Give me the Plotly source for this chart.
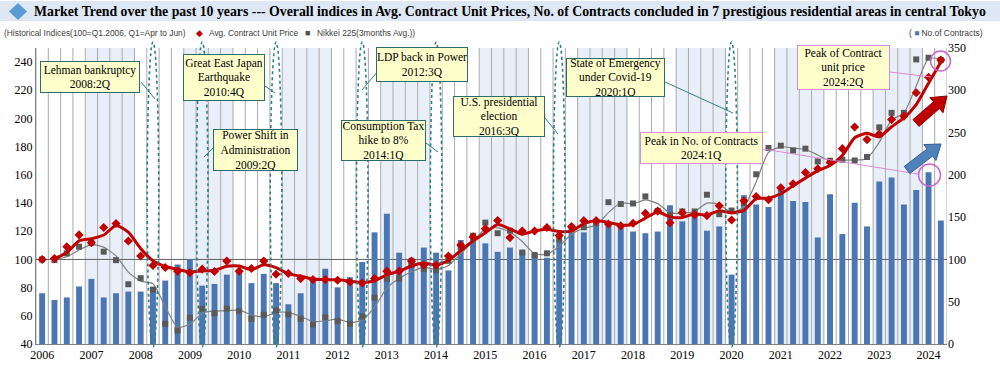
import math
import plotly.graph_objects as go

years = list(range(2006, 2025))
quarters = [f"{y}:{q}Q" for y in years for q in (1, 2, 3, 4)][:74]
year_labels = [str(y) for y in years]

# No. of contracts (right axis)
contracts = [60, 52, 55, 68, 77, 55, 60, 62, 62, 67,
             75, 94, 100, 69, 71, 82, 87, 72, 83, 72,
             47, 60, 76, 89, 67, 79, 97, 132, 154, 108,
             102, 114, 108, 87, 123, 131, 119, 109, 114, 110,
             107, 102, 123, 132, 132, 143, 143, 138, 133, 131,
             133, 164, 145, 155, 134, 139, 82, 176, 165, 162,
             186, 169, 168, 126, 177, 130, 167, 139, 192, 197,
             165, 182, 203, 146]

# Avg. contract unit price index (left axis)
unit_price = [100, 100.7, 109, 117.4, 111.9, 122.6, 125.5, 113.1, 102.4, 95.7,
              94.3, 91.7, 90.5, 93.1, 91.4, 98.8, 91.7, 93.6, 98.8, 89.5,
              90, 86.4, 85.7, 85.7, 85.2, 84, 83.3, 86.4, 91.7, 91.7,
              98.8, 96, 96, 102.4, 110.2, 116, 121.7, 127.6, 115.5, 120.2,
              120.2, 122.6, 116.9, 123.3, 127.5, 127.5, 125.1, 123.8, 125.7, 132.8,
              134.3, 126.1, 133.2, 131.6, 131.1, 138, 128, 141.6, 144.6, 142.3,
              150.8, 153.7, 161.7, 164.3, 168.8, 178.6, 194, 185, 189, 199.2,
              201.6, 218.2, 229.3, 241.4]

price_trend = [None, 100.4, 104.9, 113.2, 114.7, 117.3, 124.1, 119.3, 107.8, 99.1,
               95.0, 93.0, 91.1, 91.8, 92.3, 95.1, 95.3, 92.7, 96.2, 94.2,
               89.8, 88.2, 86.1, 85.7, 85.5, 84.6, 83.7, 84.9, 89.1, 91.7,
               95.3, 97.4, 96.0, 99.2, 106.3, 113.1, 118.9, 124.7, 121.6, 117.9,
               120.2, 121.4, 119.8, 120.1, 125.4, 127.5, 126.3, 124.5, 124.8, 129.3,
               133.6, 130.2, 129.7, 132.4, 131.4, 134.6, 133.0, 134.8, 143.1, 143.5,
               146.6, 152.3, 157.7, 163.0, 166.6, 173.7, 186.3, 189.5, 187.0, 194.1,
               200.4, 209.9, 225.0, 240.0]

# Nikkei 225 (3 months avg.) index (left axis)
nikkei = [100, 99.5, 104.3, 109, 111.9, 105.5, 99.5, 82.4, 86.7, 78.6,
          54.3, 49.5, 58.6, 65, 61.9, 65, 63.3, 57.9, 60.7, 63.8,
          61, 57.9, 53.8, 59, 56.2, 54.3, 59.5, 72.9, 86.4, 86.4,
          96, 93.1, 92.4, 99, 109, 116.8, 126.1, 118.6, 120.4, 104.9,
          103.1, 104.3, 114.2, 121.4, 122.8, 125.7, 140.6, 139.3, 139.7, 144.7,
          134.4, 131.6, 134, 134, 145.9, 132.1, 134.7, 140, 160.4, 179.1,
          180.7, 177.3, 178.6, 169.5, 170, 170.7, 170.2, 172.7, 193.7, 204,
          204, 241.9, 243.1, 241.4]

nikkei_trend = [None, 99.8, 101.9, 106.7, 110.5, 108.7, 102.5, 91.0, 84.6, 82.7,
                66.5, 51.9, 54.1, 61.8, 63.5, 63.5, 64.2, 60.6, 59.3, 62.3,
                62.4, 59.5, 55.9, 56.4, 57.6, 55.3, 56.9, 66.2, 79.7, 86.4,
                91.2, 94.6, 92.8, 95.7, 104.0, 112.9, 121.5, 122.4, 119.5, 112.7,
                104.0, 103.7, 109.3, 117.8, 122.1, 124.3, 133.2, 140.0, 139.5, 142.2,
                139.6, 133.0, 132.8, 134.0, 140.0, 139.0, 133.4, 137.4, 155.0, 176.0,
                179.9, 179.0, 178.0, 174.1, 169.8, 170.4, 170.5, 171.5, 183.2, 198.9,
                204.0, 223.0, 242.5, 242.3]

events = [
    ("Lehman bankruptcy<br>2008:2Q", "2008:2Q", (40, 61, 140, 93), (141, 82, 155, 99)),
    ("Power Shift in<br>Administration<br>2009:2Q", "2009:2Q", (213, 129, 298, 171), (213, 148, 204, 157)),
    ("Great East Japan<br>Earthquake<br>2010:4Q", "2010:4Q", (183, 54, 265, 101), (265, 86, 275, 93)),
    ("LDP back in Power<br>2012:3Q", "2012:3Q", (376, 47, 468, 82), (378, 71, 362, 90)),
    ("Consumption Tax<br>hike to 8%<br>2014:1Q", "2014:1Q", (341, 120, 426, 161), (426, 143, 438, 152)),
    ("U.S. presidential<br>election<br>2016:3Q", "2016:3Q", (453, 96, 545, 137), (545, 118, 558, 134)),
    ("State of Emergency<br>under Covid-19<br>2020:1Q", "2020:1Q", (566, 58, 665, 97), (665, 82, 733, 113)),
]

W, H = 1000, 365
PL, PR, PT, PB = 36, 947, 48, 344


def px(x):
    return (x - PL) / (PR - PL)


def py(y):
    return (PB - y) / (PB - PT)


SERIF = "Liberation Serif"
SANS = "Liberation Sans"
RED = "#c00000"
BLUE = "#4a77b4"
TEAL = "#2f7f86"
PINK = "#d98cd9"

fig = go.Figure()
fig.add_trace(go.Bar(x=quarters, y=contracts, yaxis="y", marker=dict(color=BLUE, line=dict(width=0)),
                     width=0.48, name="No.of Contracts"))
fig.add_trace(go.Scatter(x=quarters, y=nikkei_trend, yaxis="y2", mode="lines",
                         line=dict(color="#808080", width=1.2, shape="spline", smoothing=0.6),
                         connectgaps=False, name="Nikkei trend"))
fig.add_trace(go.Scatter(x=quarters, y=nikkei, yaxis="y2", mode="markers",
                         marker=dict(symbol="square", size=6, color="#595959"), name="Nikkei 225"))
fig.add_trace(go.Scatter(x=quarters, y=unit_price, yaxis="y2", mode="markers",
                         marker=dict(symbol="diamond", size=7, color=RED), name="Avg. Contract Unit Price"))
fig.add_trace(go.Scatter(x=quarters, y=price_trend, yaxis="y2", mode="lines",
                         line=dict(color=RED, width=3, shape="spline", smoothing=0.6),
                         connectgaps=False, name="Price trend"))

shapes = []
# alternating year shading
for k, y in enumerate(years):
    if k % 2 == 1:
        shapes.append(dict(type="rect", xref="x", yref="paper", x0=4 * k - 0.5, x1=4 * k + 3.5,
                           y0=0, y1=1, fillcolor="#e9eff8", line=dict(width=0), layer="below"))
# quarter separators
for k in range(len(quarters) + 1):
    shapes.append(dict(type="line", xref="x", yref="paper", x0=k - 0.5, x1=k - 0.5, y0=0, y1=1,
                       line=dict(color="#ababab", width=1), layer="below"))
# index 100 line
shapes.append(dict(type="line", xref="paper", yref="y", x0=0, x1=1, y0=100, y1=100,
                   line=dict(color="#606060", width=1), layer="below"))
# title band
shapes.append(dict(type="rect", xref="paper", yref="paper", x0=px(0), x1=px(1000), y0=py(21), y1=py(1),
                   fillcolor="#dde8f4", line=dict(width=0), layer="below"))
# title diamond
cx, cy, hw, hh = 18, 11.5, 9, 8.5
shapes.append(dict(type="path", xref="paper", yref="paper",
                   path=f"M {px(cx - hw)},{py(cy)} L {px(cx)},{py(cy - hh)} L {px(cx + hw)},{py(cy)} L {px(cx)},{py(cy + hh)} Z",
                   fillcolor="#5b9bd5", line=dict(width=0)))

annotations = []
# event ellipses, boxes, connectors
for text, q, (x0, y0, x1, y1), (lx0, ly0, lx1, ly1) in events:
    i = quarters.index(q)
    shapes.append(dict(type="circle", xref="x", yref="paper", x0=i - 0.47, x1=i + 0.47,
                       y0=py(347), y1=py(42), line=dict(color=TEAL, width=1.6, dash="dot"), layer="above"))
    shapes.append(dict(type="line", xref="paper", yref="paper", x0=px(lx0), y0=py(ly0), x1=px(lx1), y1=py(ly1),
                       line=dict(color=TEAL, width=1)))
    annotations.append(dict(xref="paper", yref="paper", x=px((x0 + x1) / 2), y=py((y0 + y1) / 2),
                            xanchor="center", yanchor="middle", text=text, showarrow=False,
                            bgcolor="#ffffcc", bordercolor="#2e6b6b", borderwidth=1, borderpad=0,
                            width=x1 - x0 - 2, height=y1 - y0 - 2,
                            font=dict(family=SERIF, size=11.5, color="black")))

# peak boxes (pink)
peaks = [("Peak in No. of Contracts<br>2024:1Q", (640, 132, 763, 164), (763, 149, 918, 174), (929.5, 175, 11)),
         ("Peak of Contract<br>unit price<br>2024:2Q", (797, 45, 890, 90), (890, 72, 931, 77), (940.5, 61, 10))]
for text, (x0, y0, x1, y1), (lx0, ly0, lx1, ly1), (ccx, ccy, r) in peaks:
    shapes.append(dict(type="line", xref="paper", yref="paper", x0=px(lx0), y0=py(ly0), x1=px(lx1), y1=py(ly1),
                       line=dict(color=PINK, width=1)))
    shapes.append(dict(type="circle", xref="paper", yref="paper", x0=px(ccx - r), x1=px(ccx + r),
                       y0=py(ccy + r), y1=py(ccy - r), line=dict(color="#cc66cc", width=1.5)))
    annotations.append(dict(xref="paper", yref="paper", x=px((x0 + x1) / 2), y=py((y0 + y1) / 2),
                            xanchor="center", yanchor="middle", text=text, showarrow=False,
                            bgcolor="#ffffcc", bordercolor=PINK, borderwidth=1, borderpad=0,
                            width=x1 - x0 - 2, height=y1 - y0 - 2,
                            font=dict(family=SERIF, size=11.5, color="black")))


def block_arrow(tx, ty, hx, hy, sw, hw, hl, fill, edge):
    dx, dy = hx - tx, hy - ty
    ln = math.hypot(dx, dy)
    ux, uy = dx / ln, dy / ln
    nx, ny = -uy, ux
    bx, by = hx - ux * hl, hy - uy * hl
    pts = [(tx + nx * sw, ty + ny * sw), (bx + nx * sw, by + ny * sw), (bx + nx * hw, by + ny * hw),
           (hx, hy), (bx - nx * hw, by - ny * hw), (bx - nx * sw, by - ny * sw), (tx - nx * sw, ty - ny * sw)]
    path = "M " + " L ".join(f"{px(a)},{py(b)}" for a, b in pts) + " Z"
    return dict(type="path", xref="paper", yref="paper", path=path, fillcolor=fill,
                line=dict(color=edge, width=1))


shapes.append(block_arrow(916, 123, 947, 96, 4.5, 10, 14, RED, "#8b0000"))
shapes.append(block_arrow(907, 170, 941, 144, 4.5, 10, 14, "#4f81bd", "#385d8a"))

# title and legend texts
annotations.append(dict(xref="paper", yref="paper", x=px(32), y=py(11.5), xanchor="left", yanchor="middle",
                        showarrow=False,
                        text="<b>Market Trend over the past 10 years --- Overall indices in Avg. Contract Unit Prices, No. of Contracts concluded in 7 prestigious residential areas in central Tokyo</b>",
                        font=dict(family=SERIF, size=13.8, color="black")))
leg_font = dict(family=SANS, size=8.4, color="#404040")
annotations.append(dict(xref="paper", yref="paper", x=px(2), y=py(33), xanchor="left", yanchor="middle",
                        showarrow=False, text="(Historical Indices(100=Q1.2006, Q1=Apr to Jun)", font=leg_font))
annotations.append(dict(xref="paper", yref="paper", x=px(199), y=py(33), xanchor="center", yanchor="middle",
                        showarrow=False, text="◆", font=dict(family=SANS, size=9, color=RED)))
annotations.append(dict(xref="paper", yref="paper", x=px(207), y=py(33), xanchor="left", yanchor="middle",
                        showarrow=False, text="Avg. Contract Unit Price", font=leg_font))
annotations.append(dict(xref="paper", yref="paper", x=px(307), y=py(33), xanchor="center", yanchor="middle",
                        showarrow=False, text="■", font=dict(family=SANS, size=9, color="#505050")))
annotations.append(dict(xref="paper", yref="paper", x=px(315), y=py(33), xanchor="left", yanchor="middle",
                        showarrow=False, text="Nikkei 225(3months Avg.))", font=leg_font))
annotations.append(dict(xref="paper", yref="paper", x=px(985), y=py(33), xanchor="right", yanchor="middle",
                        showarrow=False, text=f"( <span style='color:{BLUE}'>■</span> No.of Contracts)", font=leg_font))

fig.update_layout(
    width=W, height=H,
    margin=dict(l=PL, r=W - PR, t=PT, b=H - PB, autoexpand=False),
    paper_bgcolor="white", plot_bgcolor="white",
    showlegend=False,
    bargap=0.5,
    shapes=shapes,
    annotations=annotations,
    xaxis=dict(type="category", categoryorder="array", categoryarray=quarters, range=[-0.5, len(quarters) - 0.5],
               tickmode="array", tickvals=quarters[::4], ticktext=year_labels, ticks="", automargin=False,
               showgrid=False, showline=True, linecolor="#808080", linewidth=1,
               tickfont=dict(family=SERIF, size=12, color="black")),
    yaxis=dict(side="right", range=[0, 350], tickvals=list(range(0, 351, 50)), showgrid=False, zeroline=False,
               showline=False, ticks="", automargin=False, tickfont=dict(family=SERIF, size=12, color="black")),
    yaxis2=dict(side="left", overlaying="y", range=[40, 250], tickvals=list(range(40, 241, 20)), showgrid=False,
                zeroline=False, showline=True, linecolor="#808080", ticks="", automargin=False,
                tickfont=dict(family=SERIF, size=12, color="black")),
)

fig.write_html("out.html", config={"displayModeBar": False},
               post_script="document.body.style.margin='0px';document.body.style.overflow='hidden';")
